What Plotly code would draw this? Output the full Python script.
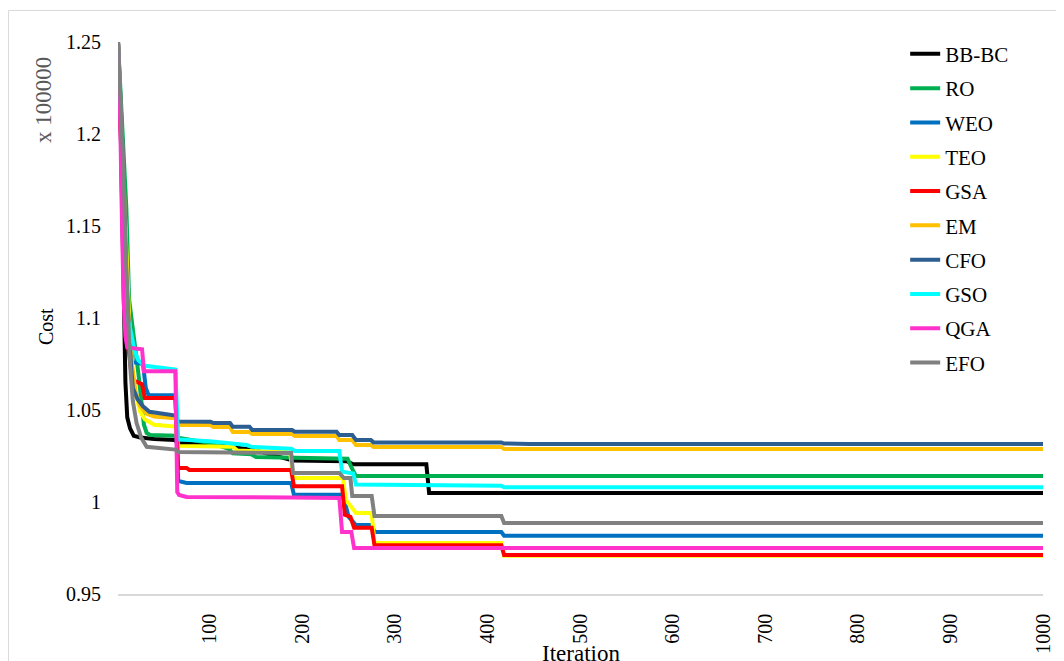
import plotly.graph_objects as go

# ---------------- data (breakpoints) ----------------
series_names = ["BB-BC", "RO", "WEO", "TEO", "GSA", "EM", "CFO", "GSO", "QGA", "EFO"]
series_colors = ["#000000", "#00B050", "#0070C0", "#FFFF00", "#FF0000",
                 "#FFC000", "#2C5E91", "#00FFFF", "#FF33CC", "#808080"]

bbbc_iter = [1, 4, 7, 9, 11, 14, 18, 25, 40, 62, 66, 100, 150, 190, 248, 255, 334, 337, 1000]
bbbc_cost = [1.25, 1.20, 1.12, 1.065, 1.046, 1.040, 1.036, 1.035, 1.0342, 1.0337, 1.032,
             1.0318, 1.028, 1.0225, 1.0222, 1.0205, 1.0205, 1.0049, 1.0049]

ro_iter = [1, 4, 7, 10, 13, 17, 20, 23, 26, 29, 32, 36, 63, 66, 100, 120, 125, 145, 150,
           249, 253, 258, 1000]
ro_cost = [1.25, 1.22, 1.19, 1.16, 1.11, 1.092, 1.082, 1.07, 1.055, 1.042, 1.0375, 1.0364,
           1.036, 1.035, 1.032, 1.029, 1.0265, 1.026, 1.0245, 1.0235, 1.019, 1.0141, 1.0141]

weo_iter = [1, 4, 7, 10, 13, 17, 28, 31, 34, 63, 66, 75, 188, 191, 243, 246, 250, 258,
            275, 278, 415, 418, 1000]
weo_cost = [1.25, 1.21, 1.16, 1.12, 1.09, 1.076, 1.075, 1.062, 1.058, 1.058, 1.0114, 1.0103,
            1.0103, 1.004, 1.004, 1.0, 0.992, 0.9875, 0.9875, 0.9837, 0.9837, 0.9817, 0.9817]

teo_iter = [1, 4, 7, 10, 13, 16, 19, 22, 25, 30, 40, 63, 66, 125, 130, 187, 190, 244, 247,
            252, 258, 275, 278, 415, 418, 1000]
teo_cost = [1.25, 1.21, 1.17, 1.14, 1.10, 1.075, 1.06, 1.055, 1.049, 1.045, 1.042, 1.041,
            1.0305, 1.030, 1.028, 1.027, 1.013, 1.013, 1.001, 0.998, 0.994, 0.994, 0.9777,
            0.9777, 0.9708, 0.9708]

gsa_iter = [1, 4, 7, 10, 12, 15, 18, 27, 30, 63, 66, 75, 78, 188, 191, 243, 246, 252, 256,
            275, 278, 415, 418, 1000]
gsa_cost = [1.25, 1.20, 1.14, 1.10, 1.085, 1.072, 1.066, 1.064, 1.0565, 1.0565, 1.0185,
            1.0185, 1.0174, 1.0174, 1.0085, 1.0085, 0.993, 0.992, 0.986, 0.986, 0.9765,
            0.9765, 0.9712, 0.9712]

em_iter = [1, 4, 7, 10, 13, 16, 20, 25, 32, 40, 63, 66, 101, 104, 122, 125, 143, 146, 189,
           192, 237, 240, 254, 258, 274, 277, 415, 418, 1000]
em_cost = [1.25, 1.21, 1.16, 1.12, 1.09, 1.075, 1.06, 1.052, 1.048, 1.0465, 1.0455, 1.0418,
           1.0418, 1.0408, 1.0408, 1.038, 1.038, 1.037, 1.037, 1.0359, 1.0359, 1.0337,
           1.0337, 1.031, 1.031, 1.0299, 1.0299, 1.0288, 1.0288]

cfo_iter = [1, 4, 7, 10, 13, 15, 17, 22, 28, 35, 63, 66, 101, 104, 122, 125, 143, 146, 189,
            192, 237, 240, 254, 258, 274, 277, 415, 418, 445, 1000]
cfo_cost = [1.25, 1.22, 1.18, 1.12, 1.09, 1.075, 1.062, 1.056, 1.052, 1.049, 1.047, 1.0438,
            1.0436, 1.0429, 1.0429, 1.0409, 1.0409, 1.0391, 1.0391, 1.0382, 1.0382, 1.0364,
            1.0364, 1.0337, 1.0337, 1.0324, 1.0324, 1.0318, 1.0315, 1.0315]

gso_iter = [1, 3, 6, 8, 10, 13, 16, 19, 23, 30, 63, 66, 100, 140, 145, 188, 192, 240, 243,
            255, 258, 415, 418, 1000]
gso_cost = [1.25, 1.22, 1.18, 1.13, 1.10, 1.097, 1.09, 1.082, 1.077, 1.074, 1.072, 1.034,
            1.033, 1.031, 1.030, 1.029, 1.0277, 1.0277, 1.0165, 1.0155, 1.0095, 1.0088,
            1.008, 1.008]

qga_iter = [1, 3, 5, 7, 9, 11, 27, 29, 63, 65, 67, 75, 188, 240, 243, 253, 256, 1000]
qga_cost = [1.25, 1.22, 1.16, 1.11, 1.09, 1.084, 1.083, 1.071, 1.071, 1.0054, 1.0038,
            1.0027, 1.0025, 1.0022, 0.9837, 0.9837, 0.9750, 0.9750]

efo_iter = [1, 4, 7, 9, 12, 14, 17, 21, 26, 32, 63, 66, 188, 190, 240, 245, 252, 254, 275,
            278, 415, 418, 1000]
efo_cost = [1.25, 1.22, 1.18, 1.14, 1.10, 1.075, 1.055, 1.043, 1.035, 1.030, 1.0285, 1.0272,
            1.0266, 1.0158, 1.0158, 1.013, 1.013, 1.0033, 1.0033, 0.9924, 0.9924, 0.9886,
            0.9886]

series_iters = [bbbc_iter, ro_iter, weo_iter, teo_iter, gsa_iter, em_iter, cfo_iter,
                gso_iter, qga_iter, efo_iter]
series_costs = [bbbc_cost, ro_cost, weo_cost, teo_cost, gsa_cost, em_cost, cfo_cost,
                gso_cost, qga_cost, efo_cost]

y_tick_vals = [0.95, 1.0, 1.05, 1.1, 1.15, 1.2, 1.25]
y_tick_text = ["0.95", "1", "1.05", "1.1", "1.15", "1.2", "1.25"]
x_tick_vals = [100, 200, 300, 400, 500, 600, 700, 800, 900, 1000]

FONT = "Liberation Serif, Times New Roman, serif"

# ---------------- figure ----------------
fig = go.Figure()
for name, color, xs, ys in zip(series_names, series_colors, series_iters, series_costs):
    fig.add_trace(go.Scatter(
        x=xs, y=ys, mode="lines", name=name, legendgroup=name,
        line=dict(color=color, width=4),
    ))

fig.update_layout(
    width=1064, height=661,
    margin=dict(l=110, r=29, t=34, b=75),
    paper_bgcolor="white", plot_bgcolor="white",
    font=dict(family=FONT, size=20, color="#000000"),
    showlegend=True,
    legend=dict(
        x=0.851, xanchor="left", y=1.015, yanchor="top",
        font=dict(family=FONT, size=21, color="#000000"),
        bgcolor="rgba(0,0,0,0)", tracegroupgap=4, traceorder="grouped",
        maxheight=600,
    ),
    xaxis=dict(
        range=[1, 1000], tickvals=x_tick_vals, tickangle=-90,
        showgrid=False, zeroline=False, showline=True, linecolor="#D9D9D9",
        linewidth=1.5, ticks="", ticklabelstandoff=10,
        tickfont=dict(family=FONT, size=20, color="#000000"),
    ),
    yaxis=dict(
        range=[0.95, 1.25], tickvals=y_tick_vals, ticktext=y_tick_text,
        showgrid=False, zeroline=False, showline=False, ticks="",
        ticklabelstandoff=16,
        tickfont=dict(family=FONT, size=20, color="#000000"),
    ),
    annotations=[
        dict(text="Cost", x=-0.0778, y=0.4837, xref="paper", yref="paper",
             textangle=-90, showarrow=False, xanchor="center", yanchor="middle",
             font=dict(family=FONT, size=20, color="#000000")),
        dict(text="x 100000", x=-0.0800, y=0.895, xref="paper", yref="paper",
             textangle=-90, showarrow=False, xanchor="center", yanchor="middle",
             font=dict(family=FONT, size=23, color="#595959")),
        dict(text="Iteration", x=0.5, y=-0.108, xref="paper", yref="paper",
             showarrow=False, xanchor="center", yanchor="middle",
             font=dict(family=FONT, size=23, color="#000000")),
    ],
    shapes=[
        dict(type="rect", xref="paper", yref="paper", x0=-0.1184, x1=1.2, y0=-0.3,
             y1=1.0571, line=dict(color="#D9D9D9", width=1), fillcolor="rgba(0,0,0,0)",
             layer="below"),
    ],
)

fig.write_html("out.html")
